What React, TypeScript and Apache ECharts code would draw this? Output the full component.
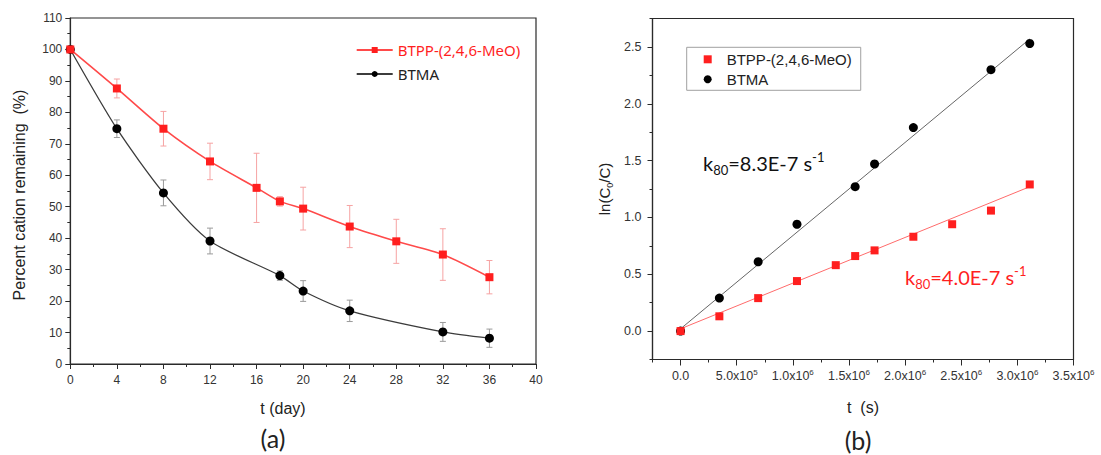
import React, { useEffect, useRef } from "react";
import * as echarts from "echarts";

// ---------- data: panel (a) ----------
const btppDays = [0, 4, 8, 12, 16, 18, 20, 24, 28, 32, 36];
const btppPct = [100, 87.6, 74.8, 64.4, 56.0, 51.7, 49.4, 43.7, 39.0, 34.8, 27.6];
const btppErr = [0, 3.0, 5.5, 5.8, 11.0, 1.5, 6.8, 6.7, 7.0, 8.2, 5.3];
const btmaDays = [0, 4, 8, 12, 18, 20, 24, 32, 36];
const btmaPct = [100, 74.8, 54.4, 39.1, 28.1, 23.2, 16.9, 10.2, 8.2];
const btmaErr = [0, 2.8, 4.1, 4.1, 1.5, 3.3, 3.4, 3.0, 2.9];

// ---------- data: panel (b) ----------
const btppSec = [0, 345600, 691200, 1036800, 1382400, 1555200, 1728000, 2073600, 2419200, 2764800, 3110400];
const btppLn = [0, 0.13, 0.29, 0.44, 0.58, 0.66, 0.71, 0.83, 0.94, 1.06, 1.29];
const btmaSec = [0, 345600, 691200, 1036800, 1555200, 1728000, 2073600, 2764800, 3110400];
const btmaLn = [0, 0.29, 0.61, 0.94, 1.27, 1.47, 1.79, 2.3, 2.53];
const fitSec = [0, 3110400];
const btmaFitLn = [0.02, 2.57];
const btppFitLn = [0.02, 1.27];

const secTicks = [0, 500000, 1000000, 1500000, 2000000, 2500000, 3000000, 3500000];
const lnTicks = [0, 0.5, 1.0, 1.5, 2.0, 2.5];

const names: Record<string, string> = {
  L_BTPP: "BTPP-(2,4,6-MeO)",
  L_BTMA: "BTMA",
  R_BTPP: "BTPP-(2,4,6-MeO)",
  R_BTMA: "BTMA",
};

const RED = "#ff1f1f";
const RED_LINE = "#ff4a4a";
const AX = "#2a2a2a";
const TICKFONT = "Liberation Sans";

function errRender(color: string) {
  return (params: any, api: any) => {
    const x = api.value(0);
    const lo = api.coord([x, api.value(1)]);
    const hi = api.coord([x, api.value(2)]);
    const w = 3;
    const style = { stroke: color, lineWidth: 1 };
    return {
      type: "group",
      children: [
        { type: "line", shape: { x1: lo[0], y1: lo[1], x2: hi[0], y2: hi[1] }, style },
        { type: "line", shape: { x1: hi[0] - w, y1: hi[1], x2: hi[0] + w, y2: hi[1] }, style },
        { type: "line", shape: { x1: lo[0] - w, y1: lo[1], x2: lo[0] + w, y2: lo[1] }, style },
      ],
    };
  };
}

function secLabel(v: number) {
  if (Math.abs(v) < 1e-9) return "{m|0.0}";
  const e = Math.floor(Math.log10(v) + 1e-9);
  const m = v / Math.pow(10, e);
  return `{m|${m.toFixed(1)}x10}{e|${e}}`;
}

export default function App() {
  const ref = useRef<HTMLDivElement>(null);
  useEffect(() => {
    if (!ref.current) return;
    const chart = echarts.init(ref.current, null, { renderer: "svg" });

    const axisCommon = {
      axisLine: { show: true, onZero: false, lineStyle: { color: AX, width: 1.2 } },
      splitLine: { show: false },
    };
    const hiddenLine = { show: false, onZero: false };

    const option: any = {
      animation: false,
      backgroundColor: "#ffffff",
      grid: [
        { left: 70.3, top: 18, width: 465.7, height: 346, show: true, borderColor: AX, borderWidth: 1.2, backgroundColor: "transparent" },
        { left: 652.5, top: 18.5, width: 421, height: 341, show: true, borderColor: AX, borderWidth: 1.2, backgroundColor: "transparent" },
      ],
      xAxis: [
        {
          gridIndex: 0, type: "value", min: 0, max: 40, interval: 4, position: "bottom",
          ...axisCommon,
          axisTick: { show: true, inside: false, length: 5, lineStyle: { color: AX } },
          minorTick: { show: true, splitNumber: 2, length: 3, lineStyle: { color: AX } },
          axisLabel: { fontSize: 12, color: "#333", fontFamily: TICKFONT, margin: 10 },
        },
        {
          gridIndex: 1, type: "value", min: -250000, max: 3500000, position: "bottom",
          ...axisCommon,
          axisTick: { show: true, inside: false, length: 6, customValues: secTicks, lineStyle: { color: AX } },
          axisLabel: {
            customValues: secTicks, color: "#333", margin: 9, fontSize: 12.5, fontFamily: TICKFONT,
            formatter: (v: number) => secLabel(v),
            rich: {
              m: { fontSize: 12.5, fontFamily: TICKFONT, color: "#333", lineHeight: 15 },
              e: { fontSize: 8, fontFamily: TICKFONT, color: "#333", lineHeight: 9, verticalAlign: "top" },
            },
          },
        },
        {
          gridIndex: 1, type: "value", min: -250000, max: 3500000, interval: 250000, position: "bottom",
          axisLine: hiddenLine, splitLine: { show: false },
          axisTick: { show: true, inside: false, length: 3, lineStyle: { color: AX } },
          axisLabel: { show: false },
        },
      ],
      yAxis: [
        {
          gridIndex: 0, type: "value", min: 0, max: 110, interval: 10, position: "left",
          ...axisCommon,
          axisTick: { show: true, inside: false, length: 5, lineStyle: { color: AX } },
          minorTick: { show: true, splitNumber: 2, length: 3, lineStyle: { color: AX } },
          axisLabel: { fontSize: 12, color: "#333", fontFamily: TICKFONT, margin: 8 },
        },
        {
          gridIndex: 1, type: "value", min: -0.25, max: 2.75, position: "left",
          ...axisCommon,
          axisTick: { show: true, inside: false, length: 5, customValues: lnTicks, lineStyle: { color: AX } },
          axisLabel: {
            customValues: lnTicks, fontSize: 12.5, color: "#333", fontFamily: TICKFONT, margin: 11,
            formatter: (v: number) => v.toFixed(1),
          },
        },
        {
          gridIndex: 1, type: "value", min: -0.25, max: 2.75, interval: 0.25, position: "left",
          axisLine: hiddenLine, splitLine: { show: false },
          axisTick: { show: true, inside: false, length: 3, lineStyle: { color: AX } },
          axisLabel: { show: false },
        },
      ],
      legend: [
        {
          left: 355.7, top: 41, orient: "vertical", itemWidth: 36, itemHeight: 7.5, itemGap: 6,
          padding: 0,
          formatter: (n: string) => names[n],
          textStyle: { fontSize: 15, fontFamily: "Noto Sans", color: "#222", lineHeight: 18, padding: [0, 0, 0, 0] },
          data: [
            { name: "L_BTPP", textStyle: { color: RED } },
            { name: "L_BTMA" },
          ],
        },
        {
          left: 686.7, top: 47.3, orient: "vertical", itemWidth: 8, itemHeight: 8, itemGap: 4,
          padding: [4, 9, 3, 17],
          borderColor: "#a0a0a0", borderWidth: 1,
          formatter: (n: string) => names[n],
          textStyle: { fontSize: 15, fontFamily: TICKFONT, color: "#222", lineHeight: 16, padding: [0, 0, 0, 10] },
          data: ["R_BTPP", "R_BTMA"],
        },
      ],
      series: [
        {
          name: "err_btpp", type: "custom", xAxisIndex: 0, yAxisIndex: 0, z: 1,
          renderItem: errRender("#f6a3a3"),
          encode: { x: 0, y: [1, 2] },
          data: btppDays.map((d, i) => [d, btppPct[i] - btppErr[i], btppPct[i] + btppErr[i]]).filter((_, i) => btppErr[i] > 0),
        },
        {
          name: "err_btma", type: "custom", xAxisIndex: 0, yAxisIndex: 0, z: 1,
          renderItem: errRender("#9a9a9a"),
          encode: { x: 0, y: [1, 2] },
          data: btmaDays.map((d, i) => [d, btmaPct[i] - btmaErr[i], btmaPct[i] + btmaErr[i]]).filter((_, i) => btmaErr[i] > 0),
        },
        {
          name: "L_BTMA", type: "line", xAxisIndex: 0, yAxisIndex: 0, z: 3,
          data: btmaDays.map((d, i) => [d, btmaPct[i]]),
          smooth: 0.25, symbol: "circle", symbolSize: 9,
          lineStyle: { color: "#3c3c3c", width: 1.3 },
          itemStyle: { color: "#000" },
        },
        {
          name: "L_BTPP", type: "line", xAxisIndex: 0, yAxisIndex: 0, z: 4,
          data: btppDays.map((d, i) => [d, btppPct[i]]),
          smooth: 0.25, symbol: "rect", symbolSize: 8,
          lineStyle: { color: RED_LINE, width: 1.6 },
          itemStyle: { color: RED },
        },
        {
          name: "fit_btma", type: "line", xAxisIndex: 1, yAxisIndex: 1, z: 2,
          data: fitSec.map((s, i) => [s, btmaFitLn[i]]),
          symbol: "none", lineStyle: { color: "#666", width: 1 },
        },
        {
          name: "fit_btpp", type: "line", xAxisIndex: 1, yAxisIndex: 1, z: 2,
          data: fitSec.map((s, i) => [s, btppFitLn[i]]),
          symbol: "none", lineStyle: { color: "#ff6b6b", width: 1 },
        },
        {
          name: "R_BTMA", type: "scatter", xAxisIndex: 1, yAxisIndex: 1, z: 3,
          data: btmaSec.map((s, i) => [s, btmaLn[i]]),
          symbol: "circle", symbolSize: 9, itemStyle: { color: "#000", opacity: 1 },
        },
        {
          name: "R_BTPP", type: "scatter", xAxisIndex: 1, yAxisIndex: 1, z: 4,
          data: btppSec.map((s, i) => [s, btppLn[i]]),
          symbol: "rect", symbolSize: 8, itemStyle: { color: RED, opacity: 1 },
        },
      ],
      graphic: [
        {
          type: "text", x: 19, y: 195, rotation: Math.PI / 2,
          style: { text: "Percent cation remaining  (%)", font: "16px 'Liberation Sans'", fill: "#222", align: "center", verticalAlign: "middle" },
        },
        {
          type: "text", x: 283, y: 408,
          style: { text: "t (day)", font: "16px 'Liberation Sans'", fill: "#222", align: "center", verticalAlign: "middle" },
        },
        {
          type: "text", x: 273, y: 438,
          style: { text: "(a)", font: "25px Lato", fill: "#222", align: "center", verticalAlign: "middle" },
        },
        {
          type: "text", x: 604, y: 189, rotation: Math.PI / 2,
          style: {
            text: "{n|ln(C}{s|0}{n|/C)}", align: "center", verticalAlign: "middle",
            rich: {
              n: { fontSize: 15, fontFamily: TICKFONT, fill: "#222", lineHeight: 20 },
              s: { fontSize: 9, fontFamily: TICKFONT, fill: "#222", lineHeight: 12, verticalAlign: "bottom" },
            },
          },
        },
        {
          type: "text", x: 863, y: 407,
          style: { text: "t  (s)", font: "16px 'Liberation Sans'", fill: "#222", align: "center", verticalAlign: "middle" },
        },
        {
          type: "text", x: 858, y: 440,
          style: { text: "(b)", font: "25px Lato", fill: "#222", align: "center", verticalAlign: "middle" },
        },
        {
          type: "text", x: 703, y: 163,
          style: {
            text: "{n|k}{s|80}{n|=8.3E-7 s}{p|-1}", align: "left", verticalAlign: "middle",
            rich: {
              n: { fontSize: 20, fontFamily: "Lato", fill: "#111", lineHeight: 26 },
              s: { fontSize: 13, fontFamily: "Lato", fill: "#111", lineHeight: 14, verticalAlign: "bottom" },
              p: { fontSize: 13, fontFamily: "Lato", fill: "#111", lineHeight: 16, verticalAlign: "top" },
            },
          },
        },
        {
          type: "text", x: 905, y: 277,
          style: {
            text: "{n|k}{s|80}{n|=4.0E-7 s}{p|-1}", align: "left", verticalAlign: "middle",
            rich: {
              n: { fontSize: 20, fontFamily: "Lato", fill: RED, lineHeight: 26 },
              s: { fontSize: 13, fontFamily: "Lato", fill: RED, lineHeight: 14, verticalAlign: "bottom" },
              p: { fontSize: 13, fontFamily: "Lato", fill: RED, lineHeight: 16, verticalAlign: "top" },
            },
          },
        },
      ],
    };

    chart.setOption(option);
    return () => chart.dispose();
  }, []);

  return (
    <div
      ref={ref}
      style={{ position: "fixed", left: 0, top: 0, width: 1101, height: 455, background: "#fff" }}
    />
  );
}
